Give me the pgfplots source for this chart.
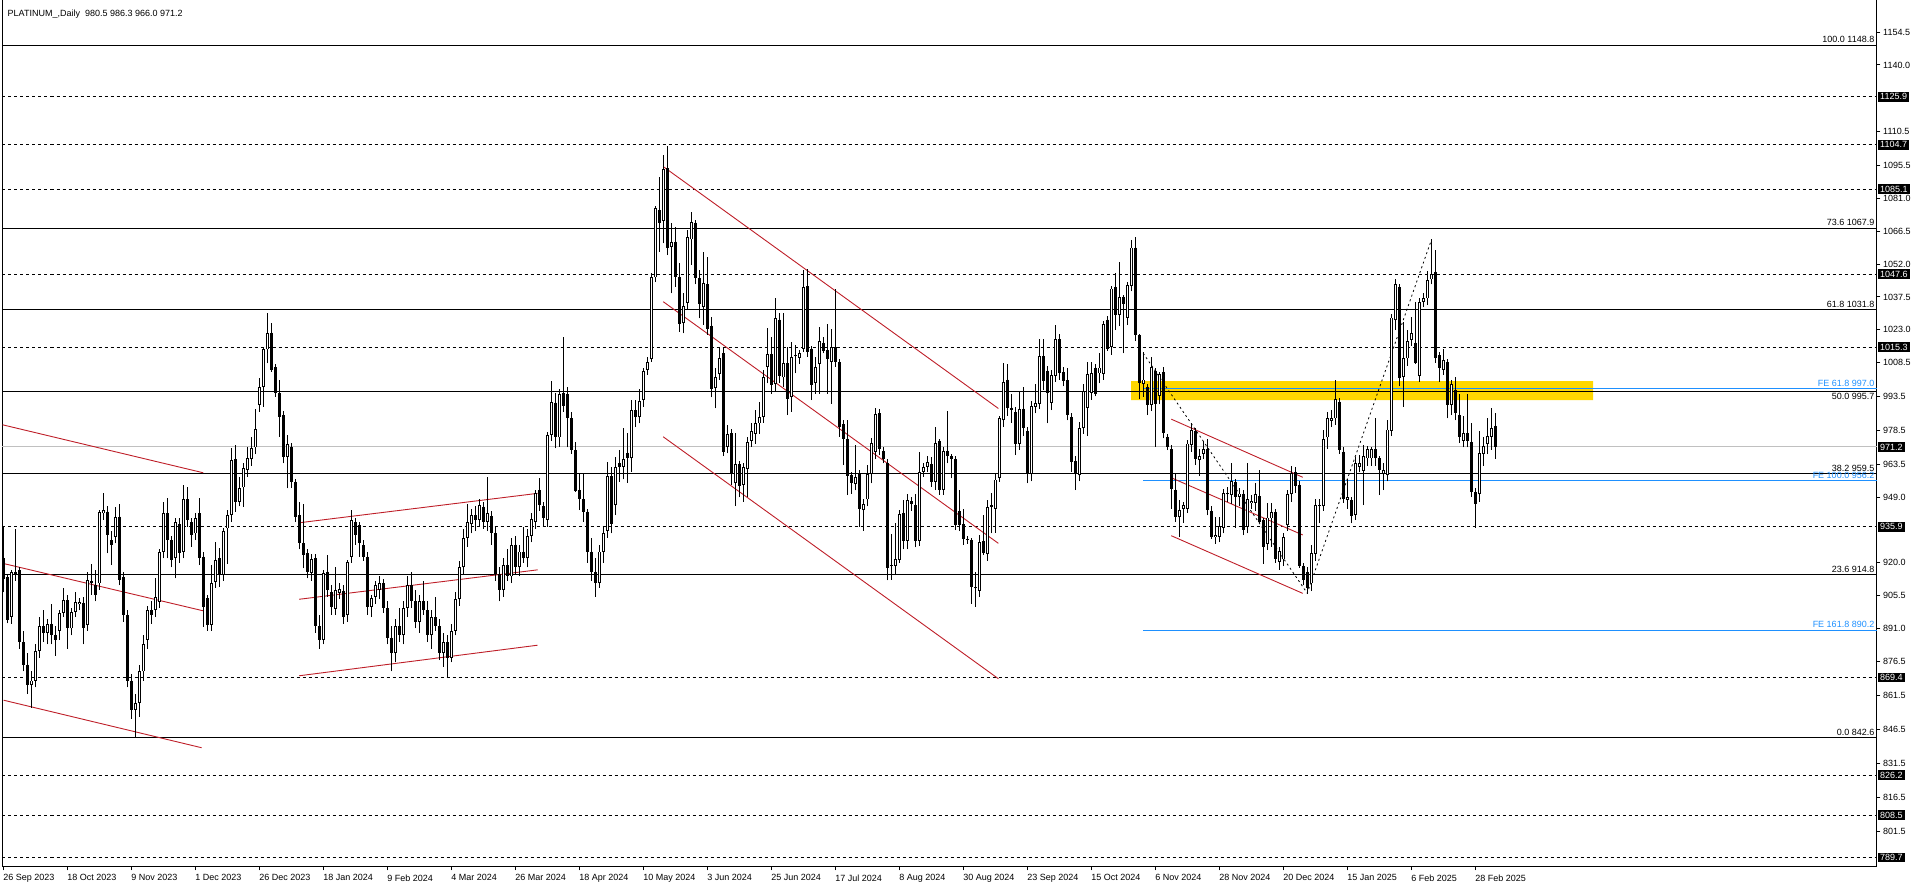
\documentclass[border=0pt]{standalone}
\usepackage{fontspec}
\setmainfont{Liberation Sans}
\usepackage{pgfplots}
\usepackage{pgfplotstable}
\pgfplotsset{compat=1.18}
\definecolor{mtblue}{RGB}{30,144,255}
\definecolor{mtred}{RGB}{190,30,40}
\definecolor{mtgold}{RGB}{255,215,0}
\definecolor{mtgray}{RGB}{192,192,192}
\newcommand\fs{\fontsize{9}{10}\selectfont}

\pgfplotstableread{
i o h l c
0 922 936 907 913
1 913.8 915 893.2 894.7
2 896.2 917 893 916.1
3 916 934.8 912 915
4 916.8 918 882 885
5 885 890 872 875
6 875 880 862 866
7 866 872 856 868
8 868 884 865 881
9 881 896 878 892
10 892 899 885 889
11 889 895 884 893
12 893 902 884 888
13 888 892 879 886
14 890 899 886 898
15 898 908.7 896 903.5
16 903.5 906 882 891
17 891 900 888 898.3
18 898.3 907 896 902.8
19 901.6 904.5 899 902.8
20 902.1 905 884 891
21 892.5 916.1 890 912.4
22 912 919.7 906 911
23 910 916.8 903 906
24 910.9 943.3 908 942.6
25 941.8 950.7 939 943.3
26 942.6 945 924.2 932.3
27 930 934 919 928
28 931.5 944.8 928.6 940.4
29 940.4 946 910 912.4
30 913.8 916 894 896.9
31 897 899 865 868
32 868 871 851 855
33 855 862 842.6 858
34 858 875 852 872
35 872 888 868 884
36 886 901 882 899
37 899 903 893 897
38 899.1 913.1 896 905
39 902.8 926 900 924.9
40 924.9 947 922 941.8
41 941.8 948.5 922 930.1
42 930 932 918 921.2
43 922 940 913.1 938.1
44 937.1 940 920 924.2
45 924.9 954.4 922 948
46 948 953.6 936 938.9
47 938.1 940 927.1 932.3
48 933 942 930 939.6
49 941.8 948.5 919 922
50 922.7 925 891.8 900.6
51 904.3 906 890 892.5
52 892.5 919 890 910.9
53 911.6 929.3 909 921.2
54 922 926.4 909.4 914.6
55 914.6 935.2 912 934.2
56 935.2 943.3 919.7 941.1
57 941.1 970.6 938 965.4
58 965.7 972 942.6 947
59 947 958 945 952.9
60 953.3 964 944.8 961.7
61 961 971.3 958 966.1
62 965.7 975.7 963 970.6
63 971 987.8 968 979
64 989.7 1001.5 986.8 997.8
65 997.8 1015.5 989 1014.3
66 1014.3 1030.2 1008.1 1021.4
67 1021.7 1026 1004.4 1005.2
68 1006.4 1008 993.4 994.9
69 994.9 1000.7 975.7 984.6
70 985.3 987 964 966.9
71 966.9 976.5 952.9 972.3
72 971 973 953 955.8
73 955.8 957 938 940.4
74 941.1 947 926 928.6
75 928.6 946.2 917.5 923.4
76 924.2 926 913.1 916.1
77 915.6 924 912 921.5
78 922 924 889 892
79 892 897 882 886
80 886 917 884 915.3
81 916.1 923.4 905 908
82 907.2 910 897 900.6
83 899.8 918.3 897 908
84 906.5 911 904 908.3
85 907.7 910 893 896.2
86 896.9 921.2 894 920.5
87 922.7 943.3 920 938.9
88 938.1 940 928 932.3
89 936.7 938 922.7 928.6
90 927.8 930 921 922.7
91 922.7 925 897 900.6
92 900.6 906 896 904.3
93 905 912 902 910.2
94 908 914 904 911
95 911 913 898 900
96 900 903 884 887
97 887 892 872 880
98 880 895 876 892
99 892 900 885 888
100 888 903 884 900
101 900 914 896 910
102 910 916 900 903
103 903 908 891 894
104 894 906 889 903
105 903 912 897 899
106 899 903 885 888
107 888 899 882 896
108 896 905 890 892
109 892 895 877 880
110 880 889 874 885
111 885 888 869.4 878
112 878 893 876 890
113 890 907 888 904
114 904 921 901 918
115 918 935 915 931
116 931 946 927 938
117 937 944 933 941
118 941 945 934 939
119 939 948 936 945.5
120 944.8 947 935 938
121 938 958.1 934 941.8
122 940.7 943 928 933
123 933 936 912 915
124 915 918 903 908
125 908 922 905 919
126 919 926 912 914
127 914 931 911 928
128 928 932 915 918
129 918 928 914 925
130 925 936 920 922
131 922 935 918 932
132 932 942 929 939.5
133 938 952 935 950.7
134 952.2 957.3 943 945.5
135 945.1 947 936 939.6
136 939 978 936 976.5
137 976.5 1000.3 974 991.2
138 990.8 994.9 970.6 975.7
139 975.4 997 971.3 994.6
140 994.9 1019.6 986.8 989.3
141 994.6 997.8 971 983.8
142 983.8 986.8 968.1 969.8
143 969.8 973.5 951.4 951.9
144 952.2 959.5 943.3 948
145 948 959.5 938 942.6
146 942.6 944 920 925
147 925 931 912 916
148 916 922 905 911
149 911 928 909 925
150 925 936 920 933
151 934 964.7 931 958.3
152 958.3 962.5 933 937
153 945.5 966.9 941.1 962.5
154 964.2 969.8 955.8 962.2
155 962.5 979.4 956.9 965.7
156 968.7 977.2 955.4 966.2
157 966.2 991.9 960.3 987.5
158 987.5 991.9 980 984.3
159 984.3 996.6 981.6 991.6
160 991.9 1005.9 989 1004.9
161 1005.2 1011.1 1003 1008.9
162 1009.9 1047.9 1008.9 1046.1
163 1046.1 1077.7 1044 1076.6
164 1075.9 1090.3 1057.5 1070.3
165 1071.2 1100.2 1061.2 1093.9
166 1094.3 1104.2 1056 1059
167 1059.4 1070 1039.1 1061.9
168 1061.9 1068.5 1042 1046.1
169 1046.4 1052.3 1022 1025.5
170 1025.8 1039.1 1021.4 1033.5
171 1035 1067.1 1032 1063.8
172 1062.9 1075.2 1051.6 1070.7
173 1070.3 1071.5 1043 1045.7
174 1045.7 1049.4 1028 1034.4
175 1032.9 1057.2 1025.1 1043.5
176 1043.2 1055 1020.7 1023.2
177 1024.8 1028.8 993.1 996.6
178 997.1 1005.9 988.2 1002
179 1003.4 1015.5 1000.8 1010.3
180 1012.6 1015.5 967.2 969.1
181 971.3 980.9 968.4 976.9
182 977.2 979 954.4 959.2
183 955.1 977.2 945.1 963.6
184 963.6 965 948.9 953.9
185 954.4 964 947 962.5
186 961.3 975.7 949.2 973.5
187 973.9 981.6 971.3 978.3
188 977.1 987.5 972.7 981.6
189 981.6 991.1 977.1 984.5
190 984.5 1005 982 1002
191 1006.6 1023.6 999.3 1012.2
192 1012.2 1019.6 994.8 998.5
193 998.9 1036.8 996 1028
194 1027.5 1030.2 999.3 1002.5
195 1001.9 1030.5 997.8 1008.1
196 1008.1 1015.5 985.3 992.2
197 993.1 1017.7 986.7 1011
198 1011.3 1016.2 1003.7 1011.8
199 1010.7 1014 1008 1012.8
200 1014.7 1049.3 1013.2 1041.7
201 1042.3 1050 1011 1013.2
202 1014.7 1016 991.9 998.5
203 999.3 1011 994.8 1006.6
204 1007.8 1024.3 994.8 1018.1
205 1017.2 1019.9 1012.5 1013.7
206 1014 1025.5 994.8 1009.9
207 1008.8 1023.5 990.4 1015.2
208 1015.2 1041.2 1006.6 1008.8
209 1008.8 1010 975.7 980.1
210 981.3 983 963.2 974.9
211 974.9 983 949.9 958.3
212 958.7 960 950.6 955.1
213 954.8 972 952 958
214 959.5 961 935.9 944
215 943.3 948.4 934.1 945.9
216 948 963.2 945 959.2
217 959.2 975 955.1 973
218 969.1 988.2 966 985.7
219 986 987.8 967.6 970.1
220 969.5 971 963.9 965.7
221 964.2 966 912.3 917.5
222 918.5 932.7 912.6 919
223 918.5 937.7 914.6 921.5
224 921.2 943.3 920 941.5
225 942.1 947.7 925.9 929.7
226 929.7 950.6 926 947.7
227 947.4 949.2 943 945.9
228 945.5 950.3 926.8 929.7
229 929.7 969.1 927.4 960.2
230 960.2 963.9 958 962.4
231 962.4 967.1 960 964.6
232 963.6 966.9 953.6 955.8
233 955.8 979.8 952.1 973
234 973.9 974.9 950 952.4
235 952.4 971.3 950 969.5
236 969.5 987.2 963.9 967.1
237 967.1 968 957.3 965.7
238 965.7 967 934.4 936.7
239 942.9 952.1 934 936.7
240 937 944 928 930.7
241 930 932 928.5 930.7
242 930 931 902 909.1
243 908.7 916 900.6 909.4
244 907.6 932.5 905 929.3
245 929.7 941.1 923.4 924.4
246 923.8 947.7 921 944.8
247 944.8 950.9 933 945.5
248 944 959.5 933.3 956.8
249 957.7 984.8 955.8 983.8
250 983 1008.4 980 1000
251 1001 1007.8 985 988.2
252 988.6 994.8 982 987.5
253 986.7 989 967.6 972.7
254 972.7 995.6 970 988.1
255 988.1 997.5 976 979.4
256 978.3 980 955.1 959.2
257 959.2 991.6 956 989.2
258 988.9 999.2 986 990.7
259 990.1 1019.1 988 1011.3
260 1011.3 1019.1 996.3 1000.4
261 1004.9 1007 981.6 995.1
262 990.7 1005 987.5 1002.9
263 1002.5 1025 1000 1018.7
264 1018.7 1021 1001 1003.7
265 1004.4 1006.6 998 1000.4
266 1000.7 1005.9 983 985.3
267 984.5 986 960.2 964.6
268 965.1 967 952.1 959.5
269 958.7 982.3 956 979.4
270 979.4 999.2 977 996
271 988.6 1008.8 976 1003.4
272 995.1 1008.8 992 1004
273 1006.3 1008 993.6 994.8
274 1003.7 1012.5 999.3 1006.3
275 1003.4 1027 1001 1025.5
276 1027.5 1029 1013.7 1014.7
277 1015.5 1042.3 1012 1041.2
278 1041.7 1047.9 1022.8 1029.4
279 1029.4 1053 1024.6 1037.3
280 1037.3 1038.3 1012.5 1034.3
281 1028.4 1044 1025 1042.7
282 1042.3 1062.6 1040 1059.3
283 1059.3 1063.8 1018 1020.6
284 1020.6 1021.3 992.2 999.5
285 999 1013.2 993.4 1001
286 997.8 999 985.3 989.7
287 989.7 1011 987 1006.6
288 1004.9 1006 971.3 990.1
289 993.7 1004.4 990 1003.4
290 1004.4 1006.6 975 977.4
291 975.7 977 969.8 971
292 970.1 972 944 952.8
293 952.4 959.5 938 940.3
294 940.1 947.7 931.5 943.3
295 944 947 937.7 945.5
296 944 974.2 942 972.7
297 972 981.6 969 978.6
298 978.3 979.4 963.2 965.7
299 965.4 970.1 958.3 967.1
300 968.3 973.9 966 970.1
301 970.1 974.9 941 943.3
302 943 945 930.7 931.5
303 931.2 940.3 928.5 932.2
304 931.5 940.3 929 936.2
305 935.6 952.8 933 950.9
306 950.3 953.6 947 950.7
307 949.9 963.9 946 956.2
308 955.8 957 935.6 949.2
309 949.2 953 945 950.6
310 950.6 952 932.2 934.4
311 935.9 963.9 933 948
312 946.5 950 944 947.4
313 946.5 955.1 943 950.3
314 949.5 961 937.4 938.1
315 938.9 940 919.7 926.8
316 928.5 946.5 925.6 940
317 939.6 946.5 927.1 942.5
318 942.5 944 920 921.5
319 920.4 927 917 925.3
320 921.5 933 918.5 931.2
321 936.6 952.1 934 950.3
322 950.3 962.9 947 959.5
323 960.2 962.4 951 953.9
324 954.4 956 917.9 918.5
325 918.5 920 910.1 912.6
326 916 918 906.4 908.7
327 910.9 927.8 907.5 924.4
328 924.1 948.4 921 945.5
329 945.1 948 937.4 945.5
330 945 978.6 943 974.5
331 975.4 986.7 970.5 983.8
332 982.8 987.5 980 983.8
333 983.8 1000.7 981 992.2
334 991.2 993 968.3 969.8
335 969.1 971 946.5 948.4
336 947.7 957 944 949.2
337 947.7 949 937.4 940.6
338 941.1 966.9 939 963.9
339 962.4 967.6 960 964.2
340 960.7 972 945.5 967.1
341 966.1 971.6 963 970.1
342 966.1 971.3 963 970.1
343 970.1 983.8 963 966.1
344 966.1 967 949.9 961
345 959.2 963.9 952.1 961
346 958.7 983 956 978.9
347 978.3 1030 976 1028.4
348 1027.2 1045.2 1022.8 1043.1
349 1041.7 1043 998 1001.5
350 1002.2 1026.5 989 1010.3
351 1010.3 1022.8 1007 1018.1
352 1018.4 1028.7 1016 1021.6
353 1017.2 1035.3 1007.8 1008.4
354 1002.5 1036.8 1000 1035.3
355 1035.3 1039.3 1033 1036.8
356 1036.8 1049 1034 1044.9
357 1045.2 1062.9 1043 1047.6
358 1048.6 1058.2 1008.4 1010.3
359 1011.8 1013 1000 1006.3
360 1005.4 1014.7 1003 1009.8
361 1008.8 1010 983.8 989.7
362 989.7 1001 985.3 999
363 996.3 1002.2 983 986
364 985.3 994.8 973 975.4
365 973.9 984.8 971 977.4
366 977.4 994.8 971 973.9
367 973.5 981.6 949 951.4
368 951.4 953 935.6 946.2
369 950.3 978.3 947 968.6
370 968 975.4 963 971.6
371 972.4 984.2 968 976
372 975.7 988.2 970 979.4
373 980.5 986.3 966 971.2
}\candles

\pgfplotsset{candle/.style={forget plot, only marks, mark=*, mark size=0pt,
  mark options={draw=none, fill=none, draw opacity=0, fill opacity=0}}}

\begin{document}
\begin{tikzpicture}
\useasboundingbox (-2.5pt,-21pt) rectangle (1913.5pt,867pt);
\begin{axis}[
  at={(0pt,0pt)}, anchor=south west,
  scale only axis, width=1874.5pt, height=867pt,
  xmin=-0.275, xmax=468.35, ymin=785.6, ymax=1168.7,
  axis line style={line width=1pt, black},
  clip=false,
  xtick pos=left, ytick pos=right,
  xticklabel pos=left, yticklabel pos=right,
  tick align=outside,
  major tick length=3.5pt,
  every tick/.style={black, line width=1pt},
  xtick={0,16,32,48,64,80,96,112,128,144,160,176,192,208,224,240,256,272,288,304,320,336,352,368},
  xticklabels={26 Sep 2023,18 Oct 2023,9 Nov 2023,1 Dec 2023,26 Dec 2023,18 Jan 2024,9 Feb 2024,4 Mar 2024,26 Mar 2024,18 Apr 2024,10 May 2024,3 Jun 2024,25 Jun 2024,17 Jul 2024,8 Aug 2024,30 Aug 2024,23 Sep 2024,15 Oct 2024,6 Nov 2024,28 Nov 2024,20 Dec 2024,15 Jan 2025,6 Feb 2025,28 Feb 2025},
  ytick={1154.5,1140,1110.5,1095.5,1081,1066.5,1052,1037.5,1023,1008.5,993.5,978.5,963.5,949,920,905.5,891,876.5,861.5,846.5,831.5,816.5,801.5},
  yticklabels={1154.5,1140.0,1110.5,1095.5,1081.0,1066.5,1052.0,1037.5,1023.0,1008.5,993.5,978.5,963.5,949.0,920.0,905.5,891.0,876.5,861.5,846.5,831.5,816.5,801.5},
  xticklabel style={anchor=north west, inner sep=0pt, xshift=-0.5pt, yshift=-4pt, font=\fs},
  yticklabel style={anchor=west, inner sep=0pt, xshift=2.5pt, font=\fs},
]
% yellow zone
\addplot[forget plot, fill=mtgold, draw=none] coordinates {(281.9,991.9) (397.4,991.9) (397.4,1000.3) (281.9,1000.3) (281.9,991.9)};
% fibonacci retracement levels
\addplot[forget plot, black, line width=1pt] coordinates {(-0.275,1148.8) (468.35,1148.8)};
\addplot[forget plot, black, line width=1pt] coordinates {(-0.275,1067.9) (468.35,1067.9)};
\addplot[forget plot, black, line width=1pt] coordinates {(-0.275,1031.8) (468.35,1031.8)};
\addplot[forget plot, black, line width=1pt] coordinates {(-0.275,995.7) (468.35,995.7)};
\addplot[forget plot, black, line width=1pt] coordinates {(-0.275,959.5) (468.35,959.5)};
\addplot[forget plot, black, line width=1pt] coordinates {(-0.275,914.8) (468.35,914.8)};
\addplot[forget plot, black, line width=1pt] coordinates {(-0.275,842.6) (468.35,842.6)};
% dashed levels
\pgfplotsinvokeforeach{1125.9,1104.7,1085.1,1047.6,1015.3,935.9,869.4,826.2,808.5,789.7}{
  \addplot[forget plot, black, line width=1pt, dash pattern=on 3pt off 3pt] coordinates {(-0.275,#1) (468.35,#1)};
}
% bid line
\addplot[forget plot, mtgray, line width=1pt] coordinates {(-0.275,971.2) (468.35,971.2)};
% fibonacci expansion levels
\addplot[forget plot, mtblue, line width=1pt] coordinates {(284.9,997.0) (468.35,997.0)};
\addplot[forget plot, mtblue, line width=1pt] coordinates {(284.9,956.2) (468.35,956.2)};
\addplot[forget plot, mtblue, line width=1pt] coordinates {(284.9,890.2) (468.35,890.2)};
% channels
\addplot[forget plot, mtred, line width=0.9pt] coordinates {(-0.275,981.0) (49.9,959.8)};
\addplot[forget plot, mtred, line width=0.9pt] coordinates {(-0.275,919.8) (49.9,898.8)};
\addplot[forget plot, mtred, line width=0.9pt] coordinates {(0,859.3) (49.5,838.3)};
\addplot[forget plot, mtred, line width=0.9pt] coordinates {(73.9,937.7) (133.5,950.7)};
\addplot[forget plot, mtred, line width=0.9pt] coordinates {(73.9,903.9) (133.5,916.9)};
\addplot[forget plot, mtred, line width=0.9pt] coordinates {(73.9,870.1) (133.5,883.6)};
\addplot[forget plot, mtred, line width=0.9pt] coordinates {(164.9,1095.1) (248.7,988.2)};
\addplot[forget plot, mtred, line width=0.9pt] coordinates {(164.9,1035.4) (248.7,928.6)};
\addplot[forget plot, mtred, line width=0.9pt] coordinates {(164.9,975.7) (248.7,868.8)};
\addplot[forget plot, mtred, line width=0.9pt] coordinates {(291.9,983.5) (324.8,957.8)};
\addplot[forget plot, mtred, line width=0.9pt] coordinates {(291.9,957.6) (324.8,932.3)};
\addplot[forget plot, mtred, line width=0.9pt] coordinates {(291.9,932.0) (324.8,906.5)};
% expansion trend
\addplot[forget plot, black, line width=0.8pt, dash pattern=on 2pt off 3pt] coordinates {(284.9,1012.6) (325.9,906.6) (357.0,1062.9)};
% candles: wicks
\addplot[candle,
  error bars/.cd, y dir=plus, y explicit, error mark=none,
  error bar style={line width=1pt, draw=black}]
  table[x=i, y=l, y error plus expr={\thisrow{h}-\thisrow{l}}] {\candles};
% candles: bodies
\addplot[candle,
  error bars/.cd, y dir=both, y explicit, error mark=none,
  error bar style={line width=3pt, draw=black}]
  table[x=i, y=o, y error plus expr={max(\thisrow{c}-\thisrow{o},0)}, y error minus expr={max(\thisrow{o}-\thisrow{c},0)}] {\candles};
% candles: hollow bull interiors
\addplot[candle,
  error bars/.cd, y dir=plus, y explicit, error mark=none,
  error bar style={line width=1.2pt, draw=white}]
  table[x=i, y expr={\thisrow{o}+0.4}, y error plus expr={max(\thisrow{c}-\thisrow{o}-0.8,0)}] {\candles};
% title
\node[anchor=base west, inner sep=0pt, font=\fs] at (rel axis cs:0,1) [xshift=5pt, yshift=-16.5pt] {PLATINUM\_,Daily\ \ 980.5 986.3 966.0 971.2};
% level labels
\node[anchor=south east, inner sep=0pt, font=\fs] at (axis cs:468.35,1148.8) [xshift=-2.5pt, yshift=2pt] {100.0 1148.8};
\node[anchor=south east, inner sep=0pt, font=\fs] at (axis cs:468.35,1067.9) [xshift=-2.5pt, yshift=2pt] {73.6 1067.9};
\node[anchor=south east, inner sep=0pt, font=\fs] at (axis cs:468.35,1031.8) [xshift=-2.5pt, yshift=2pt] {61.8 1031.8};
\node[anchor=north east, inner sep=0pt, font=\fs] at (axis cs:468.35,995.7) [xshift=-2.5pt, yshift=-2pt] {50.0 995.7};
\node[anchor=south east, inner sep=0pt, font=\fs] at (axis cs:468.35,959.5) [xshift=-2.5pt, yshift=2pt] {38.2 959.5};
\node[anchor=south east, inner sep=0pt, font=\fs] at (axis cs:468.35,914.8) [xshift=-2.5pt, yshift=2pt] {23.6 914.8};
\node[anchor=south east, inner sep=0pt, font=\fs] at (axis cs:468.35,842.6) [xshift=-2.5pt, yshift=2pt] {0.0 842.6};
\node[anchor=south east, inner sep=0pt, font=\fs, text=mtblue] at (axis cs:468.35,997.0) [xshift=-2.5pt, yshift=2pt] {FE 61.8 997.0};
\node[anchor=south east, inner sep=0pt, font=\fs, text=mtblue] at (axis cs:468.35,956.2) [xshift=-2.5pt, yshift=2pt] {FE 100.0 956.2};
\node[anchor=south east, inner sep=0pt, font=\fs, text=mtblue] at (axis cs:468.35,890.2) [xshift=-2.5pt, yshift=2pt] {FE 161.8 890.2};
% price boxes
\pgfplotsinvokeforeach{1125.9,1104.7,1085.1,1047.6,1015.3,971.2,935.9,869.4,826.2,808.5,789.7}{
  \node[anchor=west, fill=black, text=white, inner xsep=2pt, inner ysep=1.5pt, font=\fs] at (axis cs:468.35,#1) [xshift=1pt] {#1};
}
\end{axis}
\end{tikzpicture}
\end{document}
